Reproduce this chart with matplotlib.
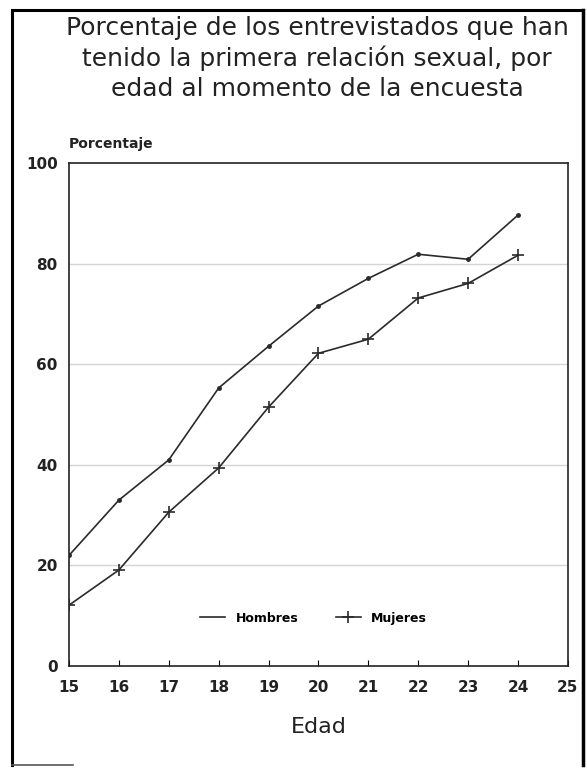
import matplotlib
matplotlib.use('Agg')
import matplotlib.pyplot as plt
from matplotlib.lines import Line2D

edad = [15, 16, 17, 18, 19, 20, 21, 22, 23, 24]
hombres = [22.0, 33.0, 41.0, 55.3, 63.6, 71.6, 77.1, 81.9, 80.9, 89.7]
mujeres = [12.1, 19.1, 30.6, 39.4, 51.5, 62.2, 65.0, 73.2, 76.1, 81.7]
yticks = [0, 20, 40, 60, 80, 100]
xticks = list(range(15, 26))

titulo = ("Porcentaje de los entrevistados que han\n"
          "tenido la primera relación sexual, por\n"
          "edad al momento de la encuesta")

fig = plt.figure(figsize=(5.87, 7.70), dpi=100)
ax = fig.add_axes([0.1175, 0.135, 0.850, 0.653])

col = '#2a2a2a'
ax.plot(edad, hombres, color=col, lw=1.2, marker='o', ms=2.5, label='Hombres')
ax.plot(edad, mujeres, color=col, lw=1.2, marker='+', ms=9, mew=1.2, label='Mujeres')

ax.set_xlim(15, 25)
ax.set_ylim(0, 100)
ax.set_xticks(xticks)
ax.set_yticks(yticks)
for v in [20, 40, 60, 80]:
    ax.axhline(v, color='#d4d4d4', lw=1.0, zorder=0)
ax.tick_params(axis='x', direction='in', length=4, width=0.8, pad=10, labelsize=11)
ax.tick_params(axis='y', direction='in', length=0, pad=8, labelsize=11)
for lab in ax.get_xticklabels() + ax.get_yticklabels():
    lab.set_fontweight('bold')
    lab.set_color('#222222')
for s in ax.spines.values():
    s.set_linewidth(1.2)
    s.set_color('#222222')

ax.set_xlabel('Edad', fontsize=16, labelpad=16, color='#222222')
fig.text(0.117, 0.808, 'Porcentaje', fontsize=10, fontweight='bold', color='#222222')

handles = [Line2D([], [], color=col, lw=1.2),
           Line2D([], [], color=col, lw=1.2, marker='+', ms=9, mew=1.2)]
leg = ax.legend(handles, ['Hombres', 'Mujeres'], loc='center', bbox_to_anchor=(0.49, 0.095),
                ncol=2, frameon=False, handlelength=2.0, columnspacing=3.0,
                prop={'weight': 'bold', 'size': 9})

fig.text(0.54, 0.924, titulo, ha='center', va='center', fontsize=18,
         linespacing=1.27, color='#222222')

# marco exterior
fig.add_artist(Line2D([0.020, 0.020], [0.006, 0.987], color='black', lw=2.2, transform=fig.transFigure))
fig.add_artist(Line2D([0.020, 0.993], [0.987, 0.987], color='black', lw=2.2, transform=fig.transFigure))
fig.add_artist(Line2D([0.993, 0.993], [0.006, 0.987], color='black', lw=2.5, transform=fig.transFigure))
fig.add_artist(Line2D([0.020, 0.125], [0.006, 0.006], color='#555555', lw=1.2, transform=fig.transFigure))

fig.savefig('out.png', dpi=100)
